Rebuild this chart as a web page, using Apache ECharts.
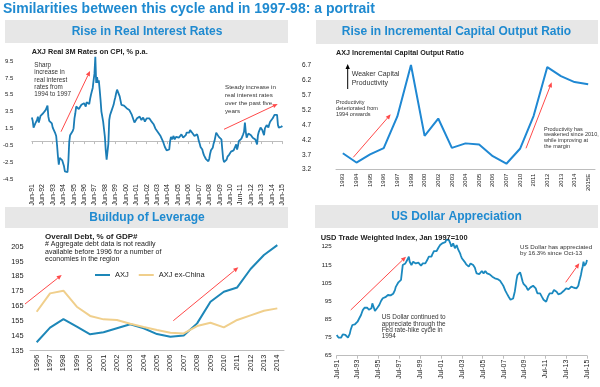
<!DOCTYPE html>
<html><head><meta charset="utf-8">
<script src="https://cdn.jsdelivr.net/npm/echarts/dist/echarts.min.js"></script>
<style>html,body{margin:0;padding:0;background:#fff}#c{width:600px;height:387px}</style>
</head><body><div id="c"></div>
<script>
const FONT = '"Liberation Sans", Arial, Helvetica, sans-serif';

// ---------- Panel 1: AXJ Real 3M Rates on CPI (monthly, Jun-91 .. Jun-15)
const rateXTicks = ['Jun-91','Jun-92','Jun-93','Jun-94','Jun-95','Jun-96','Jun-97','Jun-98','Jun-99','Jun-00','Jun-01','Jun-02','Jun-03','Jun-04','Jun-05','Jun-06','Jun-07','Jun-08','Jun-09','Jun-10','Jun-11','Jun-12','Jun-13','Jun-14','Jun-15'];
const rateYTicks = [-4.5,-2.5,-0.5,1.5,3.5,5.5,7.5,9.5];
const rateValues = [
 2.8,2.4,1.6,1.8,2.1,2.3,2.5,2.9,2.2,2.6,3.0,2.8,
 3.0,3.3,3.5,3.2,3.7,3.9,4.2,2.9,2.4,2.6,2.5,2.1,
 1.6,1.5,1.4,0.9,0.6,-0.5,-1.8,-2.8,-2.0,-1.9,-2.2,-2.3,
 -2.5,-3.0,-3.6,-3.8,-3.8,-3.7,-2.4,-0.1,0.7,0.6,0.8,1.2,
 1.5,2.7,3.3,4.1,3.9,4.2,3.8,4.0,3.9,4.3,4.1,4.4,
 4.5,4.3,4.1,4.6,4.7,4.5,4.4,5.0,5.5,5.9,6.3,7.2,
 8.0,10.0,6.9,7.6,6.9,7.2,6.1,4.9,3.5,3.7,2.3,1.4,
 0.5,-1.1,-2.2,-2.4,-0.3,2.5,3.1,3.4,3.7,3.9,4.3,4.8,
 5.2,5.7,6.1,6.2,6.0,5.3,4.8,4.3,4.2,4.1,4.2,4.0,
 4.1,3.9,4.0,3.8,3.7,3.6,3.5,3.1,2.8,2.5,2.2,2.0,
 2.4,2.7,2.5,2.6,2.9,2.7,2.5,2.7,2.8,2.6,2.3,2.5,
 2.7,2.5,2.6,2.7,2.5,2.4,2.4,2.3,2.0,1.8,1.5,1.3,
 1.2,1.0,0.9,0.8,0.6,0.5,0.4,-0.1,-0.4,-0.7,-0.9,-1.1,
 -1.1,-1.0,-1.0,0.0,0.5,0.2,0.3,0.6,0.2,0.3,0.5,0.6,
 0.5,0.4,0.2,0.3,0.8,0.6,0.4,0.3,0.4,0.7,1.0,0.8,
 0.8,1.0,1.3,1.1,1.2,0.9,0.9,0.6,0.4,0.6,0.8,0.5,
 0.0,-0.3,-0.7,-0.9,-1.0,-1.4,-1.7,-1.9,-2.1,-2.2,-2.3,-2.4,
 -2.1,-1.5,-1.1,-0.9,-0.8,-0.3,0.0,0.5,1.0,0.9,0.8,0.5,
 0.7,0.5,0.2,-1.0,-2.1,-2.5,-2.6,-2.3,-2.2,-1.85,-1.9,-1.6,
 -1.4,-1.25,-1.3,-1.45,-1.1,-0.9,-1.2,-0.4,-1.0,-0.6,0.0,0.1,
 0.2,0.3,0.5,0.8,1.1,2.2,1.1,0.4,0.6,0.9,0.8,0.7,
 0.7,0.5,0.4,0.5,0.6,0.2,0.0,-0.4,0.7,1.1,1.3,1.6,
 1.5,1.3,1.0,0.7,1.5,1.6,1.9,1.7,1.6,2.0,2.3,2.4,
 2.5,2.7,2.9,3.1,3.3,3.2,3.1,1.9,1.6,1.6,1.7,1.7,
 1.8
];

// ---------- Panel 2: AXJ Incremental Capital Output Ratio
const icorYears = ['1993','1994','1995','1996','1997','1999','2000','2002','2003','2004','2005','2006','2007','2010','2011','2012','2013','2014','2015E'];
const icorValues = [3.75,3.44,3.71,3.92,4.98,6.70,4.33,4.91,3.93,4.08,4.04,3.65,3.40,3.90,5.00,6.63,6.33,6.13,6.06];
const icorYTicks = [3.2,3.7,4.2,4.7,5.2,5.7,6.2,6.7];

// ---------- Panel 3: Overall Debt, % of GDP
const debtYears = ['1996','1997','1998','1999','2000','2001','2002','2003','2004','2005','2006','2007','2008','2009','2010','2011','2012','2013','2014'];
const debtAXJ = [140.7,150.5,156.3,151.2,146.0,147.4,150.1,152.8,150.1,146.2,144.4,145.3,153.4,168.0,174.7,177.6,190.0,199.4,206.1];
const debtExChina = [161.2,173.6,175.4,164.6,158.4,156.1,155.7,153.2,151.0,149.0,147.1,146.6,151.6,153.8,150.7,155.7,158.8,161.9,163.5];
const debtYTicks = [135,145,155,165,175,185,195,205];

// ---------- Panel 4: USD Trade Weighted Index (monthly, Jul-91 .. Jul-15)
const usdXTicks = ['Jul-91','Jul-93','Jul-95','Jul-97','Jul-99','Jul-01','Jul-03','Jul-05','Jul-07','Jul-09','Jul-11','Jul-13','Jul-15'];
const usdYTicks = [65,75,85,95,105,115,125];
const usdValues = [
 76.4,75.8,75.0,74.2,74.5,74.9,75.8,76.7,77.3,77.0,76.4,75.8,
 76.4,75.0,75.5,77.0,79.1,80.5,81.9,82.5,82.8,82.3,81.9,82.5,
 83.7,84.5,85.6,86.5,87.4,88.8,90.1,90.8,91.4,91.7,92.0,91.5,
 91.1,90.3,89.6,90.4,91.1,93.8,92.5,91.1,89.6,89.8,90.1,91.5,
 92.2,92.9,94.0,95.1,95.8,96.6,97.0,97.5,97.2,97.8,98.1,98.4,
 98.4,98.0,98.2,98.0,98.6,99.1,99.5,101.1,102.9,103.2,103.5,105.4,
 105.4,106.0,106.7,110.9,114.9,114.5,114.5,115.8,116.5,117.5,118.5,119.5,
 116.7,115.8,114.9,115.5,116.7,117.1,116.5,115.8,116.2,116.7,116.2,115.8,
 115.2,114.5,115.0,115.8,115.3,114.9,115.8,116.7,117.5,118.2,119.5,120.4,
 120.0,119.5,120.8,121.9,122.6,123.2,122.9,122.6,123.5,124.4,125.2,125.9,
 126.3,126.0,127.0,127.4,126.8,127.5,128.7,129.2,129.6,128.8,127.8,126.5,
 125.0,125.9,126.8,125.5,124.1,125.2,125.9,124.5,123.2,122.3,121.3,119.9,
 118.6,119.5,118.2,116.8,115.8,115.3,114.9,114.4,114.0,115.0,115.8,116.7,
 115.8,114.9,114.2,113.4,111.8,110.3,109.8,109.4,109.9,110.3,111.0,111.6,
 110.9,110.3,111.0,111.6,110.9,110.3,109.8,109.4,109.8,109.6,109.1,108.5,
 108.9,108.2,107.6,107.9,107.6,107.2,107.2,107.0,106.2,105.4,104.8,104.3,
 103.2,102.1,100.8,99.7,99.0,98.4,97.3,96.2,95.8,95.6,95.5,96.5,
 97.5,100.5,103.9,107.0,109.4,108.5,109.0,110.9,109.4,107.5,105.7,104.5,
 103.9,103.4,103.0,102.0,101.1,101.6,102.1,102.6,103.0,102.4,103.5,104.3,
 103.0,102.1,100.5,99.3,99.8,100.2,99.3,98.4,97.5,96.6,95.8,95.1,
 94.9,94.7,96.0,97.5,98.5,99.3,98.8,98.4,99.3,100.2,101.2,102.1,
 101.0,100.2,99.3,98.8,99.0,99.3,99.3,99.3,100.0,100.6,101.1,101.6,
 102.1,101.6,101.1,101.6,102.1,102.6,103.0,102.6,102.4,102.4,102.4,102.2,
 102.1,102.8,103.5,105.7,107.5,109.4,112.0,114.0,116.7,114.5,115.2,115.8,
 117.7
];

// monthly category labels
const MON = ['Jan','Feb','Mar','Apr','May','Jun','Jul','Aug','Sep','Oct','Nov','Dec'];
function monthCats(startYear, startMonth, n) {
  const out = [];
  for (let i = 0; i < n; i++) {
    const m = (startMonth + i) % 12;
    const y = (startYear + Math.floor((startMonth + i) / 12)) % 100;
    out.push(MON[m] + '-' + (y < 10 ? '0' : '') + y);
  }
  return out;
}
const rateMonths = monthCats(1991, 5, rateValues.length);
const usdMonths = monthCats(1991, 6, usdValues.length);

// ---------- styling helpers
const TITLE_BLUE = '#1f8ad0';
const AX = '#bdbdbd';
const TXT = '#222';
const RED = '#ff4a4a';
function txt(x, y, text, size, o) {
  o = o || {};
  return { type: 'text', x: x, y: y, silent: true, z: 10,
    style: { text: text, fill: o.color || TXT,
      font: (o.bold ? 'bold ' : '') + size + 'px ' + FONT,
      align: o.align || 'left', verticalAlign: o.valign || 'top',
      lineHeight: o.lh || size * 1.2 } };
}
function arrow(x1, y1, x2, y2, color) {
  const a = Math.atan2(y2 - y1, x2 - x1), L = 5, W = 2.2;
  const bx = x2 - L * Math.cos(a), by = y2 - L * Math.sin(a);
  return [
    { type: 'line', silent: true, z: 10, shape: { x1: x1, y1: y1, x2: bx, y2: by }, style: { stroke: color, lineWidth: 1 } },
    { type: 'polygon', silent: true, z: 10, shape: { points: [[x2, y2], [bx + W * Math.sin(a), by - W * Math.cos(a)], [bx - W * Math.sin(a), by + W * Math.cos(a)]] }, style: { fill: color } }
  ];
}
function box(x, y, w, h) {
  return { type: 'rect', silent: true, z: 1, shape: { x: x, y: y, width: w, height: h }, style: { fill: '#e7e7e7' } };
}
const lbl = (size, margin, extra) => Object.assign({ fontSize: size, color: TXT, fontFamily: FONT, margin: margin }, extra || {});

const graphics = [].concat(
  [ txt(3, 9.5, 'Similarities between this cycle and in 1997-98: a portrait', 14, { bold: true, color: TITLE_BLUE, valign: 'middle' }),
    box(5, 20, 283, 23), box(316, 20, 282, 24), box(5, 207, 283, 21), box(315, 205, 283, 23),
    txt(147, 32, 'Rise in Real Interest Rates', 12, { bold: true, color: TITLE_BLUE, align: 'center', valign: 'middle' }),
    txt(456.5, 32, 'Rise in Incremental Capital Output Ratio', 12, { bold: true, color: TITLE_BLUE, align: 'center', valign: 'middle' }),
    txt(147, 218, 'Buildup of Leverage', 12, { bold: true, color: TITLE_BLUE, align: 'center', valign: 'middle' }),
    txt(456.5, 216.5, 'US Dollar Appreciation', 12, { bold: true, color: TITLE_BLUE, align: 'center', valign: 'middle' }),
    // panel 1
    txt(31.7, 52.3, 'AXJ Real 3M Rates on CPI, % p.a.', 7.3, { bold: true, valign: 'middle' }),
    txt(34.3, 61.3, 'Sharp\nincrease in\nreal interest\nrates from\n1994 to 1997', 6.3, { lh: 7.4, color: '#333' }),
    txt(225, 83.9, 'Steady increase in\nreal interest rates\nover the past five\nyears', 6.2, { lh: 7.7, color: '#333' }),
    // panel 2
    txt(336, 53.3, 'AXJ Incremental Capital Output Ratio', 7.2, { bold: true, valign: 'middle' }),
    txt(351.7, 70.1, 'Weaker Capital\nProductivity', 7, { lh: 8.4, color: '#333' }),
    txt(336, 99.9, 'Productivity\ndeteriorated from\n1994 onwards', 5.5, { lh: 5.7, color: '#333' }),
    txt(544, 126.2, 'Productivity has\nweakened since 2010,\nwhile improving at\nthe margin', 5.5, { lh: 5.7, color: '#333' }),
    // panel 3
    txt(45, 236.7, 'Overall Debt, % of GDP#', 8, { bold: true, valign: 'middle' }),
    txt(45, 240.6, '# Aggregate debt data is not readily\navailable before 1996 for a number of\neconomies in the region', 7, { lh: 7.5 }),
    // panel 4
    txt(320.7, 237.7, 'USD Trade Weighted Index, Jan 1997=100', 7.45, { bold: true, valign: 'middle' }),
    txt(520, 244.3, 'US Dollar has appreciated\nby 16.3% since Oct-13', 6.2, { lh: 6, color: '#333' }),
    txt(381.7, 314.6, 'US Dollar continued to\nappreciate through the\nFed rate-hike cycle in\n1994', 6.4, { lh: 6.1, color: '#333' })
  ],
  arrow(61, 131.7, 90, 71, RED),
  arrow(224, 129.3, 277.7, 104, RED),
  arrow(347.7, 89, 347.7, 64, '#000'),
  arrow(353.3, 157.3, 390.7, 114.3, RED),
  arrow(526, 148.3, 551.7, 82.3, RED),
  arrow(25, 304, 61.7, 275, RED),
  arrow(173.3, 320.7, 238.3, 267.3, RED),
  arrow(350.7, 310, 406, 256.7, RED),
  arrow(565.7, 282.3, 579.3, 263.3, RED)
);

const noY = { splitLine: { show: false }, axisLine: { show: false }, axisTick: { show: false } };

const option = {
  animation: false,
  backgroundColor: '#fff',
  textStyle: { fontFamily: FONT },
  grid: [
    { left: 30.7, right: 317.7, top: 55.1, bottom: 208 },
    { left: 336, right: 5, top: 65, bottom: 217.3 },
    { left: 30, right: 316, top: 239.3, bottom: 36.3 },
    { left: 336.7, right: 13, top: 237.6, bottom: 31.3 }
  ],
  xAxis: [
    { gridIndex: 0, type: 'category', data: rateMonths, boundaryGap: false, position: 'bottom',
      axisLine: { show: false, onZero: false }, axisTick: { show: false },
      axisLabel: lbl(7, 5, { rotate: 90, interval: 11 }) },
    { gridIndex: 0, type: 'category', data: rateMonths, boundaryGap: false, position: 'bottom',
      axisLine: { show: true, onZero: true, lineStyle: { color: AX, width: 1 } },
      axisTick: { show: true, interval: 11, length: 3, lineStyle: { color: AX } },
      axisLabel: { show: false } },
    { gridIndex: 1, type: 'category', data: icorYears, boundaryGap: true,
      axisLine: { lineStyle: { color: AX } }, axisTick: { length: 4, lineStyle: { color: AX } },
      axisLabel: lbl(6, 4, { rotate: 90, interval: 0 }) },
    { gridIndex: 2, type: 'category', data: debtYears, boundaryGap: true,
      axisLine: { lineStyle: { color: AX } }, axisTick: { show: false },
      axisLabel: lbl(7.4, 4, { rotate: 90, interval: 0 }) },
    { gridIndex: 3, type: 'category', data: usdMonths, boundaryGap: false,
      axisLine: { lineStyle: { color: AX } }, axisTick: { interval: 23, length: 3, lineStyle: { color: AX } },
      axisLabel: lbl(7, 4, { rotate: 90, interval: 23 }) }
  ],
  yAxis: [
    Object.assign({ gridIndex: 0, type: 'value', min: -4.5, max: 10.2,
      axisLabel: lbl(6, 18.5, { customValues: rateYTicks, formatter: v => v.toFixed(1) }) }, noY),
    Object.assign({ gridIndex: 1, type: 'value', min: 3.2, max: 6.7,
      axisLabel: lbl(6.5, 25, { customValues: icorYTicks, formatter: v => v.toFixed(1) }) }, noY),
    Object.assign({ gridIndex: 2, type: 'value', min: 135, max: 210,
      axisLabel: lbl(7.4, 6.5, { customValues: debtYTicks }) }, noY),
    Object.assign({ gridIndex: 3, type: 'value', min: 65, max: 130,
      axisLabel: lbl(6.2, 5, { customValues: usdYTicks }) }, noY)
  ],
  legend: {
    data: ['AXJ', 'AXJ ex-China'], left: 95, top: 271, itemWidth: 15, itemHeight: 2,
    icon: 'rect', itemGap: 10, padding: 0,
    textStyle: { fontSize: 7.5, color: TXT, fontFamily: FONT }
  },
  series: [
    { type: 'line', xAxisIndex: 0, yAxisIndex: 0, data: rateValues, symbol: 'none', color: '#1b7db6',
      lineStyle: { width: 1.8 } },
    { type: 'line', xAxisIndex: 2, yAxisIndex: 1, data: icorValues, symbol: 'none', color: '#1f88d3',
      lineStyle: { width: 2 } },
    { name: 'AXJ', type: 'line', xAxisIndex: 3, yAxisIndex: 2, data: debtAXJ, symbol: 'none', color: '#1d87b8',
      lineStyle: { width: 2 } },
    { name: 'AXJ ex-China', type: 'line', xAxisIndex: 3, yAxisIndex: 2, data: debtExChina, symbol: 'none', color: '#f0cf8c',
      lineStyle: { width: 2 } },
    { type: 'line', xAxisIndex: 4, yAxisIndex: 3, data: usdValues, symbol: 'none', color: '#1b89bf',
      lineStyle: { width: 1.8 } }
  ],
  graphic: graphics
};

const chart = echarts.init(document.getElementById('c'), null, { renderer: 'canvas' });
chart.setOption(option);
</script></body></html>
